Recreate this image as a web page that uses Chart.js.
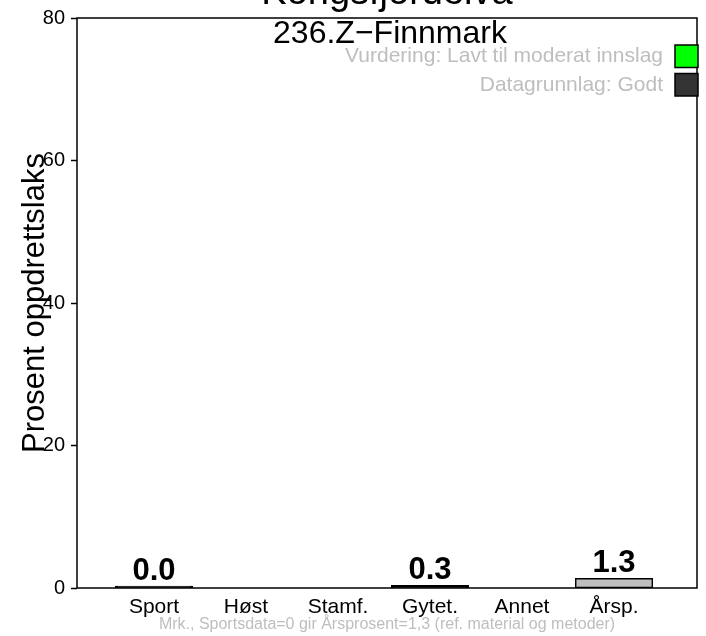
<!DOCTYPE html>
<html>
<head>
<meta charset="utf-8">
<script src="https://cdn.jsdelivr.net/npm/chart.js@4"></script>
<style>
  html, body { margin: 0; padding: 0; background: #fff; }
  canvas { display: block; }
</style>
</head>
<body>
<canvas id="c" width="706" height="636"></canvas>
<script>
// Share of escaped farmed salmon per sample category
const riverName = 'Kongsfjordelva';
const riverId = '236.Z\u2212Finnmark';
const categories = ['Sport', 'Høst', 'Stamf.', 'Gytet.', 'Annet', 'Årsp.'];
const percentFarmed = [0.0, null, null, 0.3, null, 1.3];
const yTicks = [0, 20, 40, 60, 80];
const yTitle = 'Prosent oppdrettslaks';
const assessmentLabels = ['Vurdering: Lavt til moderat innslag', 'Datagrunnlag: Godt'];
const footnote = 'Mrk., Sportsdata=0 gir Årsprosent=1,3 (ref. material og metoder)';

// styling
const FONT = '"Liberation Sans", Arial, Helvetica, sans-serif';
const assessmentColors = ['#00ff00', '#333333'];
const barFill = ['#000000', '#bebebe', '#bebebe', '#000000', '#bebebe', '#bebebe'];
const noteGrey = '#bebebe';

// titles, legend boxes, value labels, frame and footnote
const decorations = {
  id: 'decorations',
  afterDraw(chart) {
    const { ctx, chartArea: a } = chart;
    const cx = (a.left + a.right) / 2;
    ctx.save();

    // plot frame
    ctx.strokeStyle = '#000';
    ctx.lineWidth = 1.5;
    ctx.strokeRect(a.left, a.top, a.right - a.left, a.bottom - a.top);

    // titles
    ctx.fillStyle = '#000';
    ctx.textAlign = 'center';
    ctx.textBaseline = 'alphabetic';
    ctx.font = `38px ${FONT}`;
    ctx.fillText(riverName, cx, 4);
    ctx.font = `32px ${FONT}`;
    ctx.fillText(riverId, cx + 3, 43);

    // assessment legend
    ctx.font = `21px ${FONT}`;
    ctx.textAlign = 'right';
    assessmentLabels.forEach((txt, i) => {
      const top = 45 + i * 28.5;
      ctx.fillStyle = noteGrey;
      ctx.fillText(txt, 663, top + 17);
      ctx.fillStyle = assessmentColors[i];
      ctx.fillRect(675, top, 23, 22.5);
      ctx.strokeStyle = '#000';
      ctx.lineWidth = 1.5;
      ctx.strokeRect(675, top, 23, 22.5);
    });

    // y axis title
    ctx.save();
    ctx.translate(44, (a.top + a.bottom) / 2);
    ctx.rotate(-Math.PI / 2);
    ctx.textAlign = 'center';
    ctx.fillStyle = '#000';
    ctx.font = `31px ${FONT}`;
    ctx.fillText(yTitle, 0, 0);
    ctx.restore();

    // value labels above bars
    const meta = chart.getDatasetMeta(0);
    ctx.textAlign = 'center';
    ctx.fillStyle = '#000';
    ctx.font = `bold 31px ${FONT}`;
    meta.data.forEach((bar, i) => {
      const v = percentFarmed[i];
      if (v === null) return;
      ctx.fillText(v.toFixed(1), bar.x, bar.y - 7);
    });

    // footnote
    ctx.fillStyle = noteGrey;
    ctx.font = `16px ${FONT}`;
    ctx.fillText(footnote, cx, 629);

    ctx.restore();
  }
};

new Chart(document.getElementById('c'), {
  type: 'bar',
  data: {
    datasets: [{
      data: categories.map((c, i) => ({ x: i, y: percentFarmed[i] })),
      backgroundColor: barFill,
      borderColor: '#000',
      borderWidth: 1.5,
      borderSkipped: false,
      inflateAmount: 0.75,
      minBarLength: 1.5,
      categoryPercentage: 1 / 1.2,
      barPercentage: 1
    }]
  },
  options: {
    responsive: false,
    animation: false,
    devicePixelRatio: 1,
    layout: { padding: { left: 0, right: 9, top: 16, bottom: 0 } },
    plugins: { legend: { display: false }, tooltip: { enabled: false } },
    scales: {
      x: {
        type: 'linear',
        offset: false,
        min: -0.837,
        max: 5.902,
        grid: { display: false, offset: false },
        border: { display: false },
        afterBuildTicks: s => { s.ticks = categories.map((_, i) => ({ value: i })); },
        afterFit: s => { s.height = 48; },
        ticks: {
          autoSkip: false,
          maxRotation: 0,
          padding: -1,
          color: '#000',
          font: { family: FONT, size: 21 },
          callback: v => categories[v] ?? ''
        }
      },
      y: {
        min: 0,
        max: 80,
        afterBuildTicks: s => { s.ticks = yTicks.map(v => ({ value: v })); },
        afterFit: s => { s.width = 77; },
        grid: { drawOnChartArea: false, drawTicks: true, tickLength: 6, color: '#000', tickWidth: 1.5 },
        border: { display: false },
        ticks: { padding: 6, color: '#000', font: { family: FONT, size: 20 } }
      }
    }
  },
  plugins: [decorations]
});
</script>
</body>
</html>
